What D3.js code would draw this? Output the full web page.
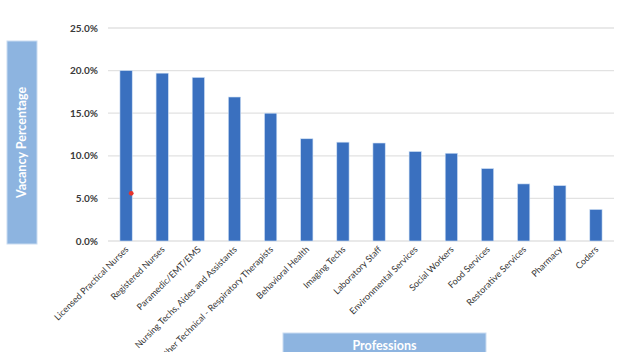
<!DOCTYPE html>
<html>
<head>
<meta charset="utf-8">
<script src="https://cdn.jsdelivr.net/npm/d3@7"></script>
<style>
  body { margin: 0; background: #fff; }
  text { font-family: Lato, "Open Sans", sans-serif; }
</style>
</head>
<body>
<svg id="chart"></svg>
<script>
var w = 621;
var h = 352;

var professions = ["Licensed Practical Nurses", "Registered Nurses", "Paramedic/EMT/EMS",
  "Nursing Techs, Aides and Assistants", "Other Technical - Respiratory Therapists",
  "Behavioral Health", "Imaging Techs", "Laboratory Staff", "Environmental Services",
  "Social Workers", "Food Services", "Restorative Services", "Pharmacy", "Coders"];
var vacancy = [0.200, 0.197, 0.192, 0.169, 0.150, 0.120, 0.116, 0.115, 0.105, 0.103,
  0.085, 0.067, 0.065, 0.037];
var yTicks = [0, 0.05, 0.10, 0.15, 0.20, 0.25];
// stray red marker on the first bar
var marker = [{ name: "Licensed Practical Nurses", value: 0.056 }];

var svg = d3.select("#chart").attr("width", w).attr("height", h);

var x = d3.scaleBand().domain(professions).range([108, 614]).paddingInner(0.66).paddingOuter(0.33);
var y = d3.scaleLinear().domain([0, 0.25]).range([241, 28]);

// gridlines
svg.append("g").selectAll("line").data(yTicks).enter().append("line")
  .attr("x1", 108).attr("x2", 614)
  .attr("y1", d => y(d)).attr("y2", d => y(d))
  .style("stroke", "#e2e2e2").style("stroke-width", "1.3px");

// y tick labels
svg.append("g").selectAll("text").data(yTicks).enter().append("text")
  .attr("x", 98).attr("y", d => y(d) + 3.5)
  .attr("text-anchor", "end")
  .style("font-size", "10px").style("font-weight", "bold").style("fill", "#3a3a3a")
  .text(d => d3.format(".1%")(d));

// bars
svg.append("g").selectAll("rect").data(professions).enter().append("rect")
  .attr("x", d => x(d))
  .attr("y", (d, i) => y(vacancy[i]))
  .attr("width", x.bandwidth())
  .attr("height", (d, i) => y(0) - y(vacancy[i]))
  .attr("fill", "#3a70bf")
  .style("stroke", "#cfe0f5").style("stroke-width", "0.6px");

// red marker
svg.append("g").selectAll("circle").data(marker).enter().append("circle")
  .attr("cx", d => x(d.name) + x.bandwidth() - 1)
  .attr("cy", d => y(d.value))
  .attr("r", 2.4)
  .style("fill", "#e8322b");

// category labels
svg.append("g").selectAll("text").data(professions).enter().append("text")
  .attr("transform", d => "translate(" + (x(d) + x.bandwidth() / 2 + 3) + ",250) rotate(-45)")
  .attr("text-anchor", "end")
  .style("font-size", "9px").style("fill", "#333")
  .text(d => d);

// y title box
svg.append("rect").attr("x", 7).attr("y", 41).attr("width", 30).attr("height", 203)
  .attr("fill", "#8db4e0").style("stroke", "#c9dcf1").style("stroke-width", "1px");
svg.append("text")
  .attr("transform", "translate(26,142.5) rotate(-90)")
  .attr("text-anchor", "middle")
  .style("font-size", "12.5px").style("font-weight", "bold").style("fill", "#fff")
  .text("Vacancy Percentage");

// x title box
svg.append("rect").attr("x", 283).attr("y", 333).attr("width", 203).attr("height", 25)
  .attr("fill", "#8db4e0").style("stroke", "#c9dcf1").style("stroke-width", "1px");
svg.append("text")
  .attr("x", 384.5).attr("y", 349.5)
  .attr("text-anchor", "middle")
  .style("font-size", "12.5px").style("font-weight", "bold").style("fill", "#fff")
  .text("Professions");
</script>
</body>
</html>
